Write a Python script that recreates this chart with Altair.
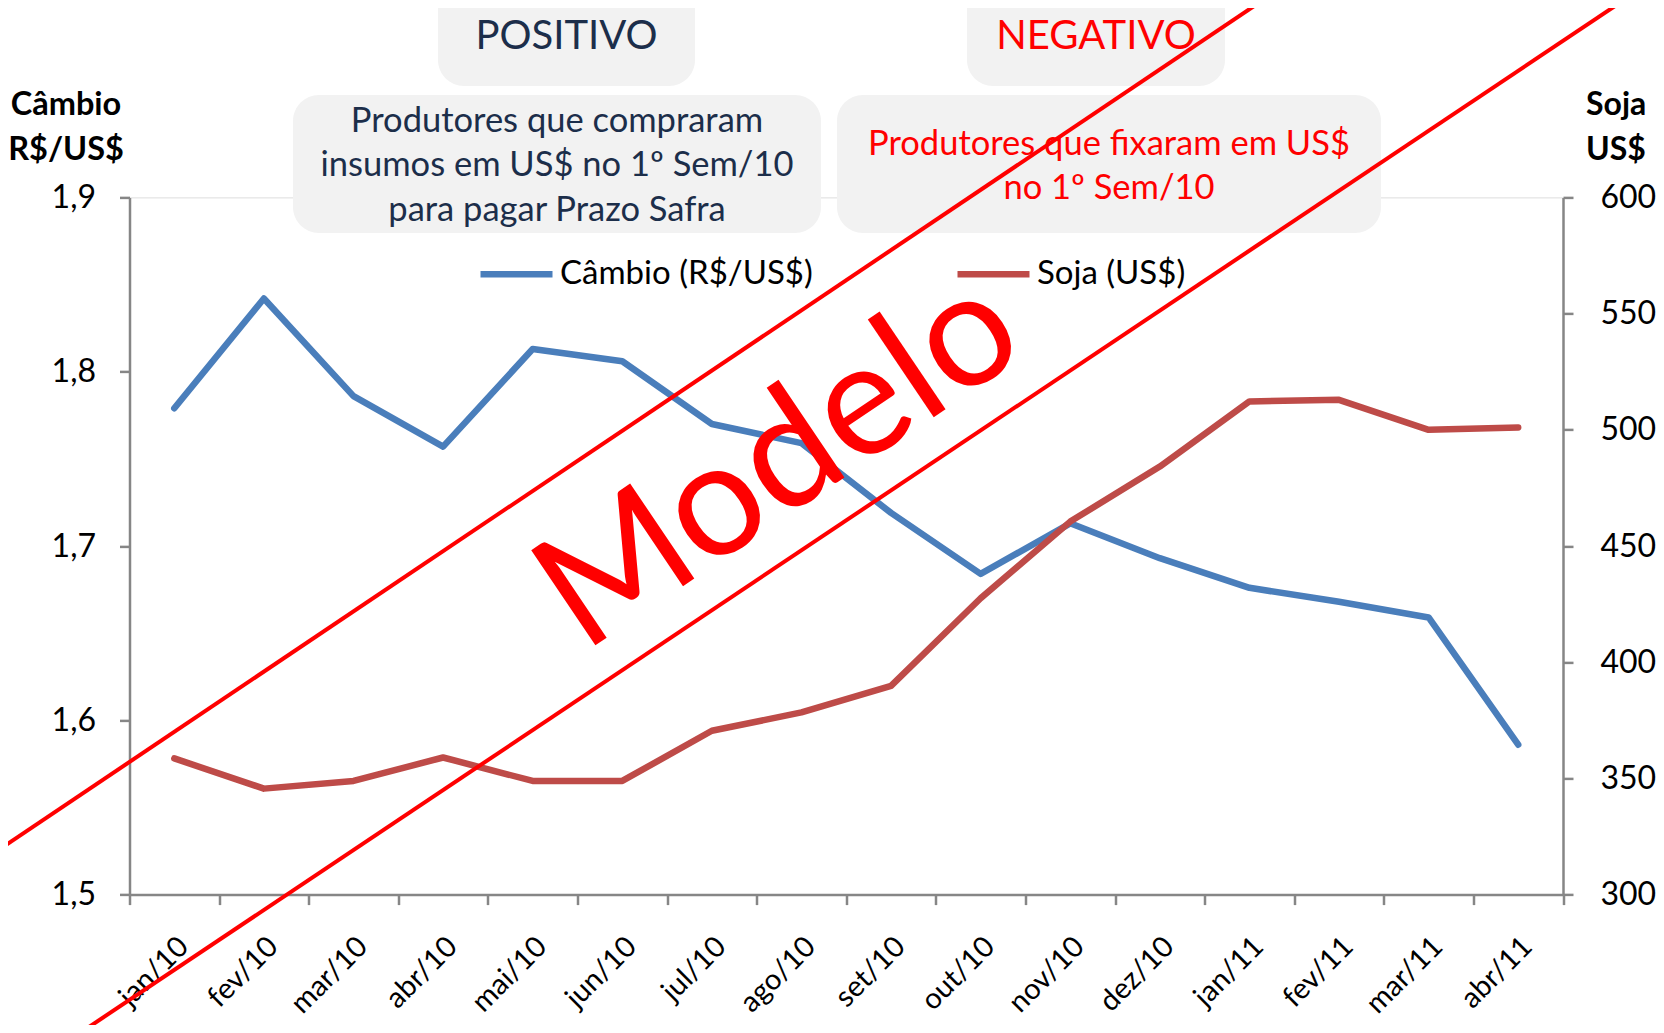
import altair as alt
import pandas as pd

# ---------------- data ----------------
meses = ["jan/10", "fev/10", "mar/10", "abr/10", "mai/10", "jun/10", "jul/10", "ago/10",
         "set/10", "out/10", "nov/10", "dez/10", "jan/11", "fev/11", "mar/11", "abr/11"]
cambio = [1.779, 1.842, 1.786, 1.757, 1.813, 1.806, 1.770, 1.759,
          1.719, 1.684, 1.713, 1.693, 1.676, 1.668, 1.659, 1.586]
soja = [358.6, 345.6, 348.9, 359.0, 348.9, 348.9, 370.5, 378.4,
        389.8, 427.5, 460.5, 484.2, 512.2, 512.9, 500.0, 501.0]
series = ["Câmbio (R$/US$)", "Soja (US$)"]
cores = ["#4A7EBB", "#BE4B48"]
ticks_cambio = [1.5, 1.6, 1.7, 1.8, 1.9]
ticks_soja = [300, 350, 400, 450, 500, 550, 600]

df = pd.DataFrame({
    "mes": meses * 2,
    "serie": [series[0]] * len(meses) + [series[1]] * len(meses),
    "valor": cambio + soja,
})
one = pd.DataFrame({"k": [0]})

# ---------------- layout ----------------
FONT = "Lato"
OX, OY = 129.5, 197.4          # page position of plot origin
W, H = 1433.5, 697.2
PAD = {"left": OX - 8, "top": OY - 8, "right": 1648 - (OX - 8) - W, "bottom": 1017 - (OY - 8) - H}
AX = "#868686"
NAVY = "#1C2E4A"
RED = "#FF0000"


def px(v):
    return alt.value(v - OX)


def py(v):
    return alt.value(v - OY)


x_enc = alt.X(
    "mes:N", sort=meses, bandPosition=0.5,
    scale=alt.Scale(type="band", paddingInner=0, paddingOuter=0),
    axis=alt.Axis(title=None, tickBand="extent", labelAngle=315, labelAlign="right",
                  labelBaseline="top", labelPadding=27, labelOffset=-1, labelFontSize=29,
                  labelFont=FONT, labelColor="black", domainColor=AX, domainWidth=2.5,
                  tickColor=AX, tickWidth=2.5, tickSize=10, grid=False),
)
color_enc = alt.Color(
    "serie:N", scale=alt.Scale(domain=series, range=cores),
    legend=alt.Legend(title=None, orient="none", legendX=347.5, legendY=37, direction="horizontal",
                      symbolType="stroke", symbolStrokeWidth=6.5, symbolSize=5184,
                      labelFontSize=33, labelFont=FONT, labelColor="black", labelOffset=4,
                      labelLimit=600, columnPadding=131, padding=0),
)

line_c = alt.Chart(df).transform_filter(alt.datum.serie == series[0]).mark_line(
    strokeWidth=6.5, strokeCap="round", strokeJoin="round").encode(
    x=x_enc,
    y=alt.Y("valor:Q", scale=alt.Scale(domain=[1.5, 1.9], nice=False, zero=False),
            axis=alt.Axis(orient="left", title=None, values=ticks_cambio,
                          labelExpr="replace(format(datum.value, '.1f'), '.', ',')",
                          labelFontSize=32, labelFont=FONT, labelColor="black", labelPadding=24,
                          domainColor=AX, domainWidth=2.5, tickColor=AX, tickWidth=2.5,
                          tickSize=10, grid=False)),
    color=color_enc,
)
line_s = alt.Chart(df).transform_filter(alt.datum.serie == series[1]).mark_line(
    strokeWidth=6.5, strokeCap="round", strokeJoin="round").encode(
    x=x_enc,
    y=alt.Y("valor:Q", scale=alt.Scale(domain=[300, 600], nice=False, zero=False),
            axis=alt.Axis(orient="right", title=None, values=ticks_soja, format="d",
                          labelFontSize=32, labelFont=FONT, labelColor="black", labelPadding=27,
                          domainColor=AX, domainWidth=2.5, tickColor=AX, tickWidth=2.5,
                          tickSize=10, grid=False)),
    color=color_enc,
)


def box(x1, x2, y1, y2):
    return alt.Chart(one).mark_rect(fill="#F2F2F2", cornerRadius=26).encode(
        x=px(x1), x2=px(x2), y=py(y1), y2=py(y2))


def txt(lines, x, y, size, color, weight="normal", align="center", lh=44.3):
    return alt.Chart(one).mark_text(
        font=FONT, fontSize=size, fontWeight=weight, color=color, align=align,
        baseline="alphabetic", lineHeight=lh).encode(
        x=px(x), y=py(y), text=alt.value(lines))


def rule(x1, y1, x2, y2):
    return alt.Chart(one).mark_rule(color=RED, strokeWidth=4).encode(
        x=px(x1), y=py(y1), x2=px(x2), y2=py(y2))


decor = [
    box(438, 695, -40, 86),
    box(967, 1225, -40, 86),
    box(293, 821, 95, 233),
    box(837, 1381, 95, 233),
    txt(["POSITIVO"], 566.5, 49, 40, NAVY),
    txt(["NEGATIVO"], 1096, 49, 40, RED),
    txt(["Produtores que compraram", "insumos em US$ no 1º Sem/10", "para pagar Prazo Safra"],
        557, 132, 34.5, NAVY),
    txt(["Produtores que fixaram em US$", "no 1º Sem/10"], 1109, 155, 34.5, RED),
    txt(["Câmbio", "R$/US$"], 66, 115, 32.5, "black", weight="bold", lh=45),
    txt(["Soja", "US$"], 1586, 115, 32, "black", weight="bold", align="left", lh=45),
]

watermark = [
    rule(-10, 855.7, 1278, -10),
    rule(65, 1043, 1639, -10),
    alt.Chart(one).mark_text(font=FONT, fontSize=160, color=RED, align="center",
                             baseline="middle", angle=326).encode(
        x=px(780), y=py(463), text=alt.value("Modelo")),
]

chart = alt.layer(*decor, line_c, line_s, *watermark).resolve_scale(
    y="independent"
).properties(
    width=W, height=H, autosize=alt.AutoSizeParams(type="none"), padding=PAD,
).configure_view(stroke=None).configure(font=FONT, background="white")

chart.save("out.html", embed_options={"renderer": "svg", "actions": False})
